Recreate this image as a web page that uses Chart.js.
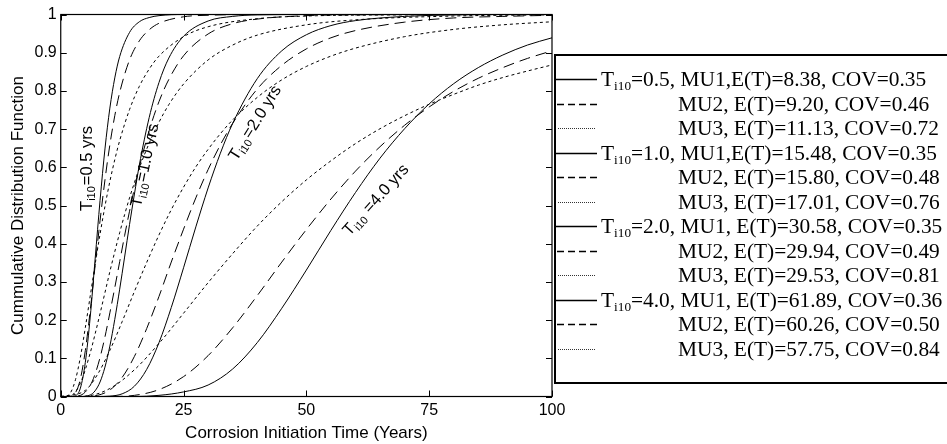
<!DOCTYPE html>
<html><head><meta charset="utf-8">
<script src="https://cdn.jsdelivr.net/npm/chart.js@4.4.0/dist/chart.umd.min.js"></script>
<style>
html,body{margin:0;padding:0;background:#fff;}
#wrap{position:relative;width:947px;height:444px;overflow:hidden;}
#legend{position:absolute;left:554px;top:54px;width:400px;height:330px;border:2px solid #000;box-sizing:border-box;font-family:'Liberation Serif','Times New Roman',serif;font-size:21.4px;color:#000;}
.row{position:absolute;left:0;height:24px;line-height:24px;white-space:nowrap;width:100%;}
.row svg{position:absolute;left:0;top:0;}
.row .txt{position:absolute;top:0;}
sub{font-size:0.62em;vertical-align:-0.28em;line-height:0;}
</style></head><body>
<div id="wrap"><canvas id="c" width="947" height="444"></canvas><div id="legend"></div></div>
<script>
// ---- data ----
const years05 = [0,1,2,3,4,5,6,7,8,9,10,11,12,14,16,18,20,25,30,40,50,70,100];
const ti05_MU1 = [0,0,0,0.002,0.022,0.089,0.208,0.360,0.513,0.648,0.755,0.834,0.890,0.953,0.981,0.992,0.997,1,1,1,1,1,1];
const ti05_MU2 = [0,0,0.001,0.010,0.046,0.120,0.225,0.343,0.460,0.567,0.659,0.735,0.796,0.881,0.931,0.960,0.977,0.994,0.998,1,1,1,1];
const ti05_MU3 = [0,0,0.010,0.044,0.103,0.180,0.263,0.346,0.425,0.498,0.563,0.620,0.670,0.751,0.812,0.857,0.891,0.942,0.968,0.989,0.996,0.999,1];

const years10 = [0,2,4,6,7,8,9,10,11,12,13,14,15,16,18,20,22,25,30,35,40,50,60,80,100];
const ti10_MU1 = [0,0,0,0.004,0.015,0.038,0.077,0.132,0.202,0.281,0.365,0.450,0.530,0.606,0.730,0.822,0.886,0.943,0.983,0.995,0.999,1,1,1,1];
const ti10_MU2 = [0,0,0.003,0.029,0.059,0.102,0.156,0.219,0.285,0.353,0.421,0.485,0.545,0.601,0.696,0.772,0.830,0.892,0.949,0.976,0.988,0.997,0.999,1,1];
const ti10_MU3 = [0,0.002,0.035,0.114,0.164,0.217,0.272,0.327,0.379,0.429,0.476,0.520,0.560,0.598,0.663,0.718,0.764,0.818,0.881,0.920,0.946,0.973,0.986,0.996,0.999];

const years20 = [0,5,7.5,10,12.5,15,17.5,20,22.5,25,27.5,30,32.5,35,40,45,50,55,60,70,80,90,100];
const ti20_MU1 = [0,0,0,0.001,0.007,0.027,0.071,0.141,0.233,0.337,0.444,0.546,0.637,0.715,0.832,0.905,0.947,0.971,0.984,0.995,0.999,1,1];
const ti20_MU2 = [0,0,0.003,0.017,0.050,0.105,0.178,0.262,0.352,0.438,0.520,0.594,0.659,0.715,0.805,0.867,0.910,0.939,0.958,0.980,0.991,0.995,0.998];
const ti20_MU3 = [0,0.016,0.058,0.121,0.196,0.275,0.351,0.423,0.489,0.548,0.601,0.647,0.688,0.724,0.783,0.829,0.864,0.891,0.912,0.942,0.961,0.973,0.981];

const years40 = [0,5,10,15,20,25,30,35,40,45,50,55,60,65,70,75,80,85,90,95,100];
const ti40_MU1 = [0,0,0,0,0.003,0.012,0.030,0.072,0.141,0.231,0.331,0.435,0.534,0.624,0.701,0.766,0.819,0.861,0.894,0.920,0.939];
const ti40_MU2 = [0,0,0,0.003,0.018,0.052,0.107,0.180,0.264,0.352,0.437,0.517,0.590,0.654,0.710,0.758,0.799,0.833,0.861,0.885,0.905];
const ti40_MU3 = [0,0.001,0.021,0.070,0.139,0.218,0.298,0.374,0.446,0.510,0.567,0.617,0.662,0.701,0.735,0.765,0.791,0.815,0.835,0.852,0.868];

const xTickLabels = ['0','25','50','75','100'];
const yTickLabels = ['0','0.1','0.2','0.3','0.4','0.5','0.6','0.7','0.8','0.9','1'];

const ti10Values = ['0.5','1.0','2.0','4.0'];
const muNames = ['MU1','MU2','MU3'];
const meanET = ['8.38','9.20','11.13','15.48','15.80','17.01','30.58','29.94','29.53','61.89','60.26','57.75'];
const covValues = ['0.35','0.46','0.72','0.35','0.48','0.76','0.35','0.49','0.81','0.36','0.50','0.84'];

// ---- build datasets ----
const groups = [
  {years: years05, series: [ti05_MU1, ti05_MU2, ti05_MU3]},
  {years: years10, series: [ti10_MU1, ti10_MU2, ti10_MU3]},
  {years: years20, series: [ti20_MU1, ti20_MU2, ti20_MU3]},
  {years: years40, series: [ti40_MU1, ti40_MU2, ti40_MU3]}
];
const dashStyles = [[], [11,6], [3,3]];
const datasets = [];
groups.forEach((g, gi) => {
  g.series.forEach((vals, k) => {
    datasets.push({
      label: 'Ti10=' + ti10Values[gi] + ' ' + muNames[k],
      data: g.years.map((t, i) => ({x: t, y: vals[i]})),
      borderColor: '#000',
      borderWidth: 1,
      borderDash: dashStyles[k],
      pointRadius: 0,
      fill: false,
      cubicInterpolationMode: 'monotone'
    });
  });
});

// in-plot curve labels (anchored in data coordinates)
const curveLabels = [
  {value: '0.5', x: 5.4, y: 0.597, angle: -90, gap: false},
  {value: '1.0', x: 17.2, y: 0.605, angle: -78, gap: false},
  {value: '2.0', x: 39.6, y: 0.716, angle: -58, gap: false},
  {value: '4.0', x: 64.2, y: 0.514, angle: -48, gap: true}
];

const frameTicks = {
  id: 'frameTicks',
  afterDatasetsDraw(chart) {
    const {ctx, chartArea: a, scales} = chart;
    ctx.save();
    ctx.strokeStyle = '#000';
    ctx.lineWidth = 1.2;
    ctx.strokeRect(a.left, a.top, a.right - a.left, a.bottom - a.top);
    const L = 6;
    ctx.lineWidth = 1;
    ctx.beginPath();
    scales.x.ticks.forEach(t => {
      const px = Math.round(scales.x.getPixelForValue(t.value)) + 0.5;
      ctx.moveTo(px, a.bottom); ctx.lineTo(px, a.bottom - L);
      ctx.moveTo(px, a.top); ctx.lineTo(px, a.top + L);
    });
    scales.y.ticks.forEach(t => {
      const py = Math.round(scales.y.getPixelForValue(t.value)) + 0.5;
      ctx.moveTo(a.left, py); ctx.lineTo(a.left + L, py);
      ctx.moveTo(a.right, py); ctx.lineTo(a.right - L, py);
    });
    ctx.stroke();
    ctx.restore();
  }
};

const labelPlugin = {
  id: 'curveLabels',
  afterDatasetsDraw(chart) {
    const {ctx, scales} = chart;
    const big = '16.5px "Liberation Sans", Arial, sans-serif';
    const small = '11px "Liberation Sans", Arial, sans-serif';
    curveLabels.forEach(l => {
      const px = scales.x.getPixelForValue(l.x);
      const py = scales.y.getPixelForValue(l.y);
      const rest = (l.gap ? ' ' : '') + '=' + l.value + ' yrs';
      ctx.save();
      ctx.font = big;
      const wT = ctx.measureText('T').width;
      const wR = ctx.measureText(rest).width;
      ctx.font = small;
      const wS = ctx.measureText('i10').width + 1;
      const total = wT + wS + wR;
      ctx.translate(px, py);
      ctx.rotate(l.angle * Math.PI / 180);
      ctx.textBaseline = 'middle';
      ctx.textAlign = 'left';
      ctx.fillStyle = '#000';
      let cx = -total / 2;
      ctx.font = big; ctx.fillText('T', cx, 0); cx += wT;
      ctx.font = small; ctx.fillText('i10', cx, 5); cx += wS;
      ctx.font = big; ctx.fillText(rest, cx, 0);
      ctx.restore();
    });
  }
};

Chart.defaults.font.family = '"Liberation Sans", Arial, sans-serif';
Chart.defaults.color = '#000';

new Chart(document.getElementById('c'), {
  type: 'line',
  data: {datasets},
  options: {
    responsive: false,
    animation: false,
    devicePixelRatio: 1,
    layout: {padding: {left: 9.5, right: 395, top: 14.5, bottom: 2.5}},
    plugins: {legend: {display: false}, tooltip: {enabled: false}},
    scales: {
      x: {
        type: 'linear', min: 0, max: 100,
        grid: {display: false, drawTicks: false},
        border: {display: false},
        ticks: {stepSize: 25, padding: 6, font: {size: 16, lineHeight: 1},
                callback: (v, i) => xTickLabels[i]},
        title: {display: true, text: 'Corrosion Initiation Time (Years)',
                font: {size: 17, lineHeight: 1}, padding: {top: 0, bottom: 0}}
      },
      y: {
        type: 'linear', min: 0, max: 1,
        grid: {display: false, drawTicks: false},
        border: {display: false},
        ticks: {stepSize: 0.1, padding: 4, font: {size: 16, lineHeight: 1},
                callback: (v, i) => yTickLabels[i]},
        title: {display: true, text: 'Cummulative Distribution Function',
                font: {size: 17, lineHeight: 1}, padding: {top: 0, bottom: 4}}
      }
    }
  },
  plugins: [frameTicks, labelPlugin]
});

// ---- HTML legend ----
const legend = document.getElementById('legend');
const rowTop0 = 23, rowStep = 24.5;
for (let gi = 0; gi < 4; gi++) {
  for (let k = 0; k < 3; k++) {
    const idx = gi * 3 + k;
    const row = document.createElement('div');
    row.className = 'row';
    row.style.top = (rowTop0 + idx * rowStep - 12) + 'px';
    let line;
    if (k === 0) line = '<line x1="0" y1="12.5" x2="41" y2="12.5" stroke="#000" stroke-width="1.3"/>';
    else if (k === 1) line = '<line x1="1" y1="12.5" x2="42" y2="12.5" stroke="#000" stroke-width="1.3" stroke-dasharray="7,4"/>';
    else line = '<line x1="2" y1="12.5" x2="40" y2="12.5" stroke="#333" stroke-width="1" stroke-dasharray="1,1"/>';
    const sep = gi < 2 ? ',' : ', ';
    let text;
    if (k === 0) {
      text = '<span class="txt" style="left:45px">T<sub>i10</sub>=' + ti10Values[gi] + ', ' + muNames[k] + sep +
             'E(T)=' + meanET[idx] + ', COV=' + covValues[idx] + '</span>';
    } else {
      text = '<span class="txt" style="left:122px">' + muNames[k] + ', E(T)=' + meanET[idx] +
             ', COV=' + covValues[idx] + '</span>';
    }
    row.innerHTML = '<svg width="44" height="24">' + line + '</svg>' + text;
    legend.appendChild(row);
  }
}
</script>
</body></html>
